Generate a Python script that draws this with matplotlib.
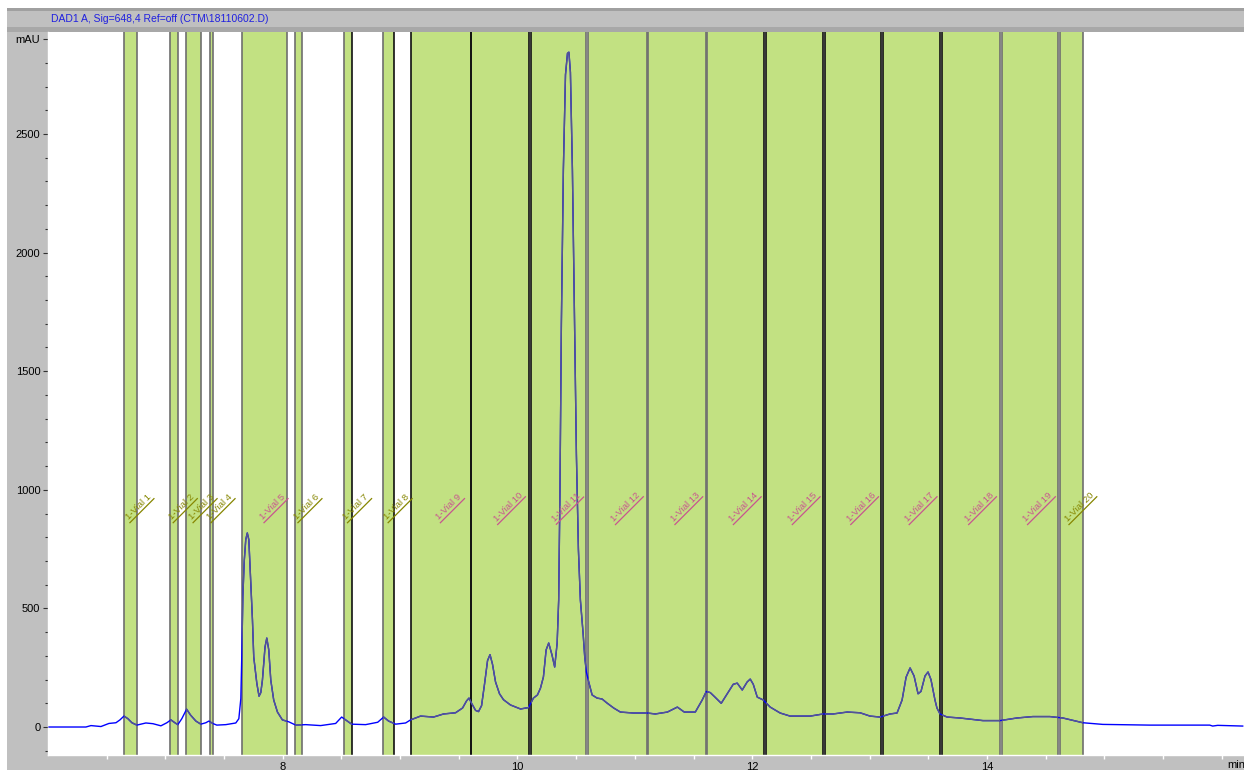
import numpy as np
import matplotlib
matplotlib.use("Agg")
import matplotlib.pyplot as plt
from matplotlib.patches import Rectangle
from matplotlib.lines import Line2D
from matplotlib.transforms import IdentityTransform
from matplotlib.font_manager import FontProperties

title = "DAD1 A, Sig=648,4 Ref=off (CTM\\18110602.D)"

time_min = [6.009, 6.323, 6.366, 6.451, 6.519, 6.579, 6.613, 6.647, 6.681, 6.715,
            6.757, 6.834, 6.894, 6.962, 7.013, 7.047, 7.081, 7.106, 7.140, 7.181,
            7.215, 7.260, 7.302, 7.345, 7.370, 7.404, 7.438, 7.515, 7.600, 7.626,
            7.643, 7.651, 7.660, 7.672, 7.685, 7.698, 7.711, 7.728, 7.742, 7.753,
            7.779, 7.798, 7.813, 7.827, 7.849, 7.864, 7.881, 7.898, 7.923, 7.955,
            7.997, 8.051, 8.111, 8.196, 8.323, 8.451, 8.502, 8.536, 8.587, 8.706,
            8.809, 8.860, 8.902, 8.962, 9.047, 9.089, 9.174, 9.285, 9.370, 9.472,
            9.532, 9.566, 9.587, 9.609, 9.643, 9.668, 9.694, 9.719, 9.745, 9.766,
            9.787, 9.813, 9.847, 9.881, 9.940, 10.026, 10.094, 10.136, 10.170, 10.196,
            10.221, 10.244, 10.266, 10.294, 10.317, 10.338, 10.351, 10.362, 10.374, 10.391,
            10.409, 10.426, 10.438, 10.451, 10.468, 10.485, 10.502, 10.519, 10.536, 10.559,
            10.573, 10.587, 10.607, 10.636, 10.678, 10.721, 10.763, 10.820, 10.877, 10.987,
            11.106, 11.174, 11.277, 11.362, 11.421, 11.515, 11.574, 11.609, 11.643, 11.685,
            11.736, 11.787, 11.838, 11.872, 11.915, 11.957, 11.983, 12.009, 12.043, 12.094,
            12.153, 12.238, 12.323, 12.494, 12.604, 12.689, 12.809, 12.919, 13.004, 13.089,
            13.174, 13.234, 13.277, 13.311, 13.345, 13.379, 13.413, 13.438, 13.472, 13.498,
            13.523, 13.557, 13.574, 13.600, 13.660, 13.770, 13.966, 14.111, 14.255, 14.391,
            14.536, 14.647, 14.817, 14.987, 15.387, 15.898, 15.923, 15.966, 16.043, 16.179]

signal_mau = [0, 0, 6, 2, 15, 18, 30, 46, 35, 18,
              8, 17, 14, 5, 18, 30, 18, 10, 35, 75,
              50, 25, 12, 18, 25, 15, 8, 10, 17, 35,
              120, 300, 550, 700, 790, 818, 790, 600, 451, 295,
              185, 130, 145, 198, 337, 375, 325, 198, 114, 63,
              30, 22, 8, 10, 6, 15, 42, 30, 12, 10,
              20, 42, 25, 12, 17, 30, 46, 42, 55, 60,
              80, 110, 122, 100, 70, 65, 90, 180, 280, 305,
              265, 190, 140, 115, 93, 76, 82, 122, 135, 164,
              211, 325, 354, 304, 253, 354, 535, 1000, 1700, 2350,
              2750, 2840, 2845, 2760, 2350, 1750, 1150, 750, 535, 396,
              295, 232, 190, 135, 122, 118, 101, 80, 63, 59,
              59, 55, 63, 84, 63, 63, 114, 150, 145, 125,
              100, 140, 180, 185, 156, 190, 202, 180, 126, 114,
              84, 59, 46, 46, 55, 55, 63, 60, 46, 42,
              55, 59, 114, 210, 249, 215, 140, 150, 215, 232,
              200, 114, 80, 55, 42, 38, 27, 27, 38, 44,
              44, 38, 18, 11, 8, 8, 4, 7, 6, 4]

vial_labels = ["1-Vial 1", "1-Vial 2", "1-Vial 3", "1-Vial 4", "1-Vial 5",
               "1-Vial 6", "1-Vial 7", "1-Vial 8", "1-Vial 9", "1-Vial 10",
               "1-Vial 11", "1-Vial 12", "1-Vial 13", "1-Vial 14", "1-Vial 15",
               "1-Vial 16", "1-Vial 17", "1-Vial 18", "1-Vial 19", "1-Vial 20"]
band_start = [6.647, 7.038, 7.180, 7.376, 7.649, 8.105, 8.525, 8.857, 9.095, 9.600,
              10.111, 10.604, 11.115, 11.617, 12.119, 12.621, 13.115, 13.617, 14.128, 14.621]
band_end = [6.757, 7.104, 7.300, 7.410, 8.040, 8.162, 8.587, 8.947, 9.600, 10.102,
            10.587, 11.106, 11.608, 12.102, 12.604, 13.098, 13.600, 14.111, 14.604, 14.817]
edge_left = ["g", "g", "g", "g", "g", "g", "g", "g", "k", "k",
             "k", "g", "g", "g", "k", "k", "k", "k", "g", "g"]
edge_right = ["g", "g", "g", "g", "g", "g", "k", "k", "k", "k",
              "g", "g", "g", "k", "k", "k", "k", "g", "g", "g"]
label_kind = ["o", "o", "o", "o", "p", "o", "o", "o", "p", "p",
              "p", "p", "p", "p", "p", "p", "p", "p", "p", "o"]

x_major = [8, 10, 12, 14, 16]
x_major_labels = ["8", "10", "12", "14", ""]
y_major = [0, 500, 1000, 1500, 2000, 2500, 2900]
y_major_labels = ["0", "500", "1000", "1500", "2000", "2500", "mAU"]

W, H = 1244, 770
fig = plt.figure(figsize=(W / 100, H / 100), dpi=100, facecolor="white")
font = "Liberation Sans"

# window chrome
fig.add_artist(Rectangle((7 / W, 0), 1, (H - 8) / H, transform=fig.transFigure,
                         facecolor="#c0c0c0", edgecolor="none", zorder=-10))
fig.add_artist(Rectangle((7 / W, 1 - 11 / H), 1, 3 / H, transform=fig.transFigure,
                         facecolor="#a0a0a0", edgecolor="none", zorder=-9))
fig.add_artist(Rectangle((7 / W, 1 - 32 / H), 1, 5 / H, transform=fig.transFigure,
                         facecolor="#a8a8a8", edgecolor="none", zorder=-9))
fig.text(51 / W, 1 - 19 / H, title, color="#2020e0", fontsize=7.5, family=font,
         va="center", ha="left")

ax = fig.add_axes([48 / W, 15 / H, (W - 48) / W, (755 - 32) / H])
ax.set_facecolor("white")
ax.set_xlim(6.0, 16.19)
ax.set_ylim(-118, 2930)

green = "#c2e182"
edge_col = {"g": "#6e6e6e", "k": "#101010"}
for a, b, el, er in zip(band_start, band_end, edge_left, edge_right):
    ax.axvspan(a, b, facecolor=green, edgecolor="none", zorder=1)
    ax.axvline(a, color=edge_col[el], lw=1.2, zorder=2)
    ax.axvline(b, color=edge_col[er], lw=1.2, zorder=2)

# chromatogram: blue outside fractions, slate inside
ax.plot(time_min, signal_mau, color="#0000ff", lw=1.0, zorder=3)
for a, b in zip(band_start, band_end):
    ln, = ax.plot(time_min, signal_mau, color="#55558f", lw=1.0, zorder=4)
    clip = Rectangle((a, -200), b - a, 4000, transform=ax.transData)
    ln.set_clip_path(clip)

for s in ["top", "right"]:
    ax.spines[s].set_visible(False)
for s in ["left", "bottom"]:
    ax.spines[s].set_color("white")
    ax.spines[s].set_linewidth(1.0)

ax.set_xticks(x_major)
ax.set_xticklabels(x_major_labels)
ax.set_xticks(np.arange(6.5, 16.2, 0.5), minor=True)
ax.set_yticks(y_major)
ax.set_yticklabels(y_major_labels)
ax.set_yticks(np.arange(-100, 2900, 100), minor=True)
ax.tick_params(axis="x", which="both", direction="out", length=3, width=1,
               color="white", pad=2, labelsize=8)
ax.tick_params(axis="y", which="major", direction="out", length=3.5, width=0.8,
               color="#303030", pad=2, labelsize=8)
ax.tick_params(axis="y", which="minor", direction="out", length=2.5, width=0.8,
               color="#303030")
for lab in ax.get_xticklabels() + ax.get_yticklabels():
    lab.set_family(font)

fig.text(1227 / W, 5 / H, "min", fontsize=8, family=font, ha="left", va="center")

# vial labels (rotated, underlined)
fig.canvas.draw()
renderer = fig.canvas.get_renderer()
prop = FontProperties(family=font, size=6.8)
u = np.array([1.0, 1.0]) / np.sqrt(2)
nvec = np.array([1.0, -1.0]) / np.sqrt(2)
colors = {"o": "#868600", "p": "#c8558f"}
label_y = 927
for s, a, b, k in zip(vial_labels, band_start, band_end, label_kind):
    cx, cy = ax.transData.transform(((a + b) / 2, label_y))
    cx += 8
    c = colors[k]
    ax.text(cx, cy, s, transform=IdentityTransform(), rotation=45,
            rotation_mode="anchor", ha="center", va="center",
            fontproperties=prop, color=c, zorder=6)
    w, h, d = renderer.get_text_width_height_descent(s, prop, ismath=False)
    C = np.array([cx, cy])
    S = C - (w / 2 + 1) * u + (h / 2 + 1.5) * nvec
    E = S + (w + 2) * u
    fig.add_artist(Line2D([S[0], E[0]], [S[1], E[1]], transform=IdentityTransform(),
                          color=c, lw=0.9, zorder=6))

fig.savefig("out.png", dpi=100, facecolor=fig.get_facecolor())
